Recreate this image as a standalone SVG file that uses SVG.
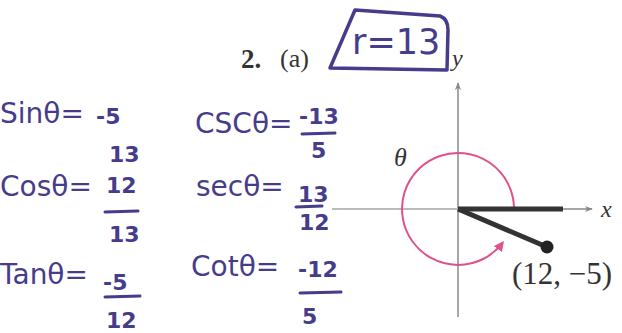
<svg xmlns="http://www.w3.org/2000/svg" width="622" height="333" viewBox="0 0 622 333">
<style>
.hw{font-family:"DejaVu Sans","Liberation Sans",sans-serif;fill:#463c8c;}
.big{font-size:28px;}
.sm{font-size:22px;font-weight:bold;}
.bar{stroke:#463c8c;stroke-width:3;stroke-linecap:round;fill:none;}
.serif{font-family:"Liberation Serif",serif;fill:#333;}
.ax{stroke:#888;stroke-width:1.5;fill:none;}
</style>
<defs>
<marker id="ah" viewBox="0 0 10 10" refX="9" refY="5" markerWidth="8" markerHeight="8" orient="auto" markerUnits="userSpaceOnUse">
<path d="M0,1 L10,5 L0,9 L3,5 Z" fill="#888"/>
</marker>
<marker id="ph" viewBox="0 0 10 10" refX="8" refY="5" markerWidth="10" markerHeight="10" orient="auto" markerUnits="userSpaceOnUse">
<path d="M0,0 L10,5 L0,10 Z" fill="#e0508a"/>
</marker>
</defs>
<rect width="622" height="333" fill="#fff"/>

<g id="header">
<text class="serif" x="241" y="68" font-size="27" font-weight="bold">2.</text>
<text class="serif" x="280" y="67" font-size="26">(a)</text>
<path d="M355,10 L440,16 Q448,19 448,30 L447,70 L330,68 Z" fill="none" stroke="#463c8c" stroke-width="3.5" stroke-linejoin="round"/>
<text class="hw" x="352" y="54" font-size="35">r=13</text>
<text class="serif" x="452" y="66" font-size="24" font-style="italic">y</text>
</g>

<g id="sin">
<text class="hw big" x="0" y="123">Sinθ=</text>
<text class="hw sm" x="96" y="124">-5</text>
<text class="hw sm" x="109" y="162">13</text>
</g>
<g id="cos">
<text class="hw big" x="0" y="196">Cosθ=</text>
<text class="hw sm" x="106" y="193">12</text>
<path class="bar" d="M105,212 L138,211"/>
<text class="hw sm" x="109" y="242">13</text>
</g>
<g id="tan">
<text class="hw big" x="0" y="284">Tanθ=</text>
<text class="hw sm" x="103" y="290">-5</text>
<path class="bar" d="M105,297 L140,296"/>
<text class="hw sm" x="106" y="328">12</text>
</g>
<g id="csc">
<text class="hw big" x="195" y="133">CSCθ=</text>
<text class="hw sm" x="299" y="124">-13</text>
<path class="bar" d="M302,134 L335,133"/>
<text class="hw sm" x="311" y="158">5</text>
</g>
<g id="sec">
<text class="hw big" x="196" y="196">secθ=</text>
<text class="hw sm" x="298" y="202">13</text>
<path class="bar" d="M296,207 L322,206"/>
<text class="hw sm" x="299" y="230">12</text>
</g>
<g id="cot">
<text class="hw big" x="191" y="276">Cotθ=</text>
<text class="hw sm" x="298" y="277">-12</text>
<path class="bar" d="M300,293 L341,292"/>
<text class="hw sm" x="302" y="324">5</text>
</g>

<g id="axes">
<line class="ax" x1="458" y1="317" x2="458" y2="83" marker-end="url(#ah)"/>
<line x1="332" y1="209" x2="458" y2="209" stroke="#bbb" stroke-width="2"/>
<line class="ax" x1="560" y1="209" x2="592" y2="209" marker-end="url(#ah)"/>
<text class="serif" x="601" y="217" font-size="24" font-style="italic">x</text>
</g>

<g id="angle">
<path d="M514,207 A56,56 0 1 0 502.7,242.7" fill="none" stroke="#e0508a" stroke-width="2" marker-end="url(#ph)"/>
<text class="serif" x="394" y="166" font-size="26" font-style="italic">θ</text>
</g>

<g id="sides">
<line x1="458" y1="209" x2="563" y2="209" stroke="#333" stroke-width="5"/>
<line x1="458" y1="209" x2="547" y2="247" stroke="#333" stroke-width="5"/>
<circle cx="547" cy="247" r="6.5" fill="#222"/>
<text class="serif" x="512" y="284" font-size="31">(12, −5)</text>
</g>
</svg>
